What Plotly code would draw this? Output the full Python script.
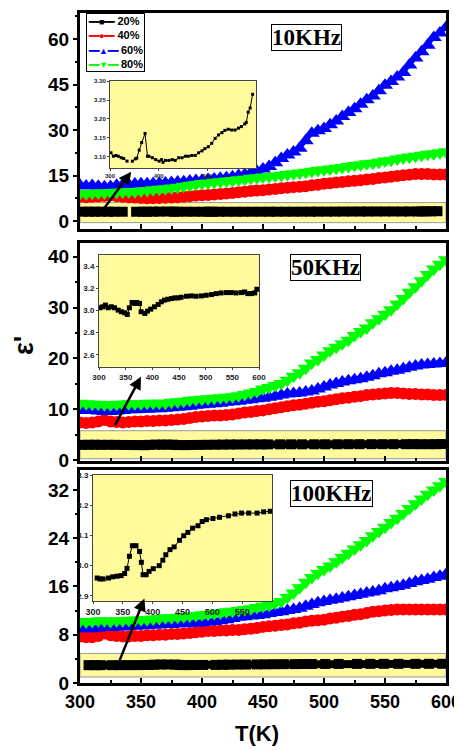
import plotly.graph_objects as go

# ---------------- data ----------------
TEMPS = list(range(300, 605, 5))

# 10 KHz
RED_10K = [8.0, 7.9, 8.0, 8.1, 8.3, 8.5, 8.2, 8.0, 7.9, 7.8,
           7.6, 7.5, 7.5, 7.6, 7.7, 7.8, 7.9, 8.0, 8.2, 8.4,
           8.5, 8.6, 8.8, 8.9, 9.1, 9.3, 9.5, 9.7, 9.9, 10.1,
           10.2, 10.4, 10.6, 10.8, 11.0, 11.2, 11.3, 11.5, 11.8, 12.0,
           12.3, 12.5, 12.7, 12.9, 13.1, 13.3, 13.5, 13.7, 13.9, 14.2,
           14.4, 14.6, 14.9, 15.1, 15.3, 15.5, 15.5, 15.5, 15.4, 15.4,
           15.4]
BLUE_10K = [11.8, 11.6, 11.7, 11.5, 11.3, 11.4, 11.8, 12.0, 12.1, 12.2,
            12.3, 12.3, 12.4, 12.5, 12.6, 12.7, 12.9, 13.0, 13.2, 13.4,
            13.5, 13.7, 13.9, 14.1, 14.3, 14.6, 15.0, 15.4, 15.9, 16.4,
            17.2, 18.0, 19.2, 20.6, 21.8, 22.8, 24.0, 26.5, 29.0, 29.8,
            30.5, 31.8, 33.0, 34.5, 35.8, 37.0, 38.5, 40.0, 41.2, 43.0,
            44.8, 46.0, 47.5, 49.0, 51.5, 53.8, 55.8, 58.0, 60.5, 62.0,
            63.8]
GREEN_10K = [9.1, 9.0, 9.2, 9.3, 9.3, 9.4, 9.5, 9.6, 9.6, 9.7,
             9.9, 10.1, 10.3, 10.5, 10.7, 10.9, 11.2, 11.5, 11.8, 12.1,
             12.4, 12.6, 12.8, 13.0, 13.2, 13.4, 13.6, 13.8, 14.1, 14.3,
             14.5, 14.7, 14.9, 15.1, 15.4, 15.6, 15.9, 16.1, 16.4, 16.7,
             16.9, 17.2, 17.4, 17.7, 18.0, 18.3, 18.6, 18.9, 19.1, 19.4,
             19.8, 20.1, 20.5, 20.8, 21.1, 21.4, 21.7, 22.0, 22.2, 22.5,
             22.9]
# 20% at 10 KHz (also shown in the inset)
T20_10K = [302, 307, 312, 317, 323, 328, 335, 340, 346, 352, 355, 360, 365, 372,
           377, 380, 387, 394, 401, 406, 409, 414, 421, 428, 434, 441, 448, 455,
           461, 468, 475, 482, 489, 495, 502, 509, 516, 523, 530, 536, 543, 550,
           557, 564, 570, 577, 580, 584, 588, 593]
E20_10K = [3.111, 3.102, 3.104, 3.102, 3.098, 3.096, 3.089, None, 3.089, 3.095,
           3.097, 3.118, 3.138, 3.162, 3.102, 3.102, 3.098, 3.093, 3.089, 3.093,
           3.086, 3.091, 3.091, 3.093, 3.091, 3.098, 3.098, 3.102, 3.102, 3.104,
           3.104, 3.111, 3.116, 3.122, 3.127, 3.136, 3.149, 3.158, 3.164, 3.170,
           3.173, 3.171, 3.171, 3.176, 3.180, 3.187, 3.191, 3.218, 3.229, 3.265]

# 50 KHz
RED_50K = [7.4, 7.3, 7.4, 7.6, 7.9, 7.6, 7.5, 7.4, 7.5, 7.6,
           7.6, 7.7, 7.7, 7.8, 7.8, 7.9, 8.0, 8.1, 8.3, 8.5,
           8.6, 8.7, 8.8, 8.8, 8.9, 9.0, 9.2, 9.4, 9.5, 9.7,
           9.8, 10.0, 10.2, 10.4, 10.6, 10.8, 10.9, 11.1, 11.3, 11.5,
           11.6, 11.8, 12.0, 12.2, 12.3, 12.5, 12.6, 12.8, 12.9, 13.0,
           13.1, 13.2, 13.2, 13.1, 13.0, 13.0, 12.9, 12.9, 12.8, 12.8,
           12.8]
BLUE_50K = [9.9, 9.8, 9.8, 9.7, 9.6, 9.6, 9.7, 9.8, 9.9, 9.9,
            10.0, 10.0, 10.1, 10.1, 10.2, 10.3, 10.4, 10.5, 10.6, 10.8,
            10.9, 11.0, 11.1, 11.2, 11.4, 11.5, 11.6, 11.8, 11.9, 12.1,
            12.2, 12.4, 12.6, 12.8, 13.0, 13.1, 13.2, 13.4, 13.6, 14.0,
            14.4, 14.8, 15.1, 15.4, 15.6, 15.8, 16.0, 16.3, 16.6, 17.0,
            17.2, 17.5, 17.7, 18.0, 18.3, 18.5, 18.7, 18.8, 18.9, 19.0,
            19.1]
GREEN_50K = [11.2, 11.1, 11.0, 11.0, 10.9, 10.9, 11.0, 11.0, 11.1, 11.1,
             11.1, 11.2, 11.2, 11.2, 11.2, 11.4, 11.5, 11.6, 11.8, 11.9,
             12.0, 12.1, 12.2, 12.3, 12.4, 12.5, 12.7, 12.9, 13.2, 13.5,
             14.0, 14.3, 14.7, 15.1, 15.7, 16.5, 17.2, 18.1, 19.1, 19.8,
             20.7, 21.5, 22.2, 22.9, 23.6, 24.5, 25.3, 26.0, 27.0, 27.8,
             28.7, 29.6, 30.7, 31.8, 33.0, 34.1, 35.3, 36.5, 37.6, 38.5,
             39.4]
T20_50K = [302, 307, 312, 317, 323, 329, 336, 342, 348, 353, 357, 362, 367, 371,
           376, 379, 386, 391, 397, 404, 411, 417, 423, 429, 436, 442, 448, 454,
           464, 473, 482, 492, 501, 511, 520, 529, 539, 548, 557, 567, 573, 579,
           586, 592, 596]
E20_50K = [3.024, 3.033, 3.048, 3.024, 3.033, 3.024, 3.003, 2.988, 2.979, 2.964,
           3.024, 3.072, 3.063, 3.072, 3.063, 2.988, 2.973, 2.994, 3.012, 3.033,
           3.054, 3.078, 3.093, 3.101, 3.107, 3.113, 3.113, 3.119, 3.128, 3.131,
           3.128, 3.131, 3.137, 3.143, 3.152, 3.158, 3.161, 3.161, 3.158, 3.161,
           3.167, 3.152, 3.152, 3.158, 3.191]

# 100 KHz
RED_100K = [7.7, 7.6, 7.6, 7.8, 8.2, 7.9, 7.8, 7.7, 7.7, 7.8,
            7.8, 7.9, 7.9, 8.0, 8.0, 8.1, 8.1, 8.2, 8.3, 8.4,
            8.5, 8.6, 8.6, 8.7, 8.7, 8.8, 8.8, 8.9, 9.0, 9.1,
            9.3, 9.4, 9.5, 9.6, 9.7, 9.9, 10.0, 10.2, 10.3, 10.4,
            10.5, 10.7, 10.8, 11.0, 11.1, 11.3, 11.4, 11.6, 11.8, 11.9,
            12.0, 12.1, 12.2, 12.2, 12.2, 12.2, 12.2, 12.2, 12.2, 12.2,
            12.2]
BLUE_100K = [9.1, 9.0, 9.0, 9.1, 9.2, 9.2, 9.3, 9.3, 9.4, 9.4,
             9.5, 9.5, 9.6, 9.6, 9.7, 9.7, 9.8, 9.8, 9.9, 9.9,
             10.0, 10.1, 10.2, 10.3, 10.5, 10.7, 10.9, 11.0, 11.1, 11.2,
             11.3, 11.5, 11.7, 11.8, 12.0, 12.2, 12.4, 12.7, 13.0, 13.3,
             13.5, 13.7, 13.9, 14.1, 14.3, 14.5, 14.7, 14.9, 15.1, 15.3,
             15.6, 15.8, 16.0, 16.2, 16.5, 16.8, 17.0, 17.2, 17.5, 17.7,
             18.0]
GREEN_100K = [10.2, 10.1, 10.2, 10.3, 10.3, 10.2, 10.3, 10.3, 10.4, 10.4,
              10.5, 10.5, 10.6, 10.7, 10.8, 10.8, 10.9, 11.0, 11.1, 11.2,
              11.3, 11.4, 11.5, 11.6, 11.8, 11.9, 12.0, 12.2, 12.3, 12.5,
              12.7, 12.9, 13.2, 13.5, 14.2, 14.9, 15.8, 16.7, 17.5, 18.2,
              18.8, 19.4, 20.1, 20.8, 21.5, 22.2, 22.9, 23.6, 24.4, 25.1,
              25.8, 26.6, 27.3, 28.1, 28.9, 29.7, 30.5, 31.3, 32.0, 32.7,
              33.4]
T20_100K = [307, 312, 317, 326, 333, 340, 347, 353, 357, 361, 366, 372, 378,
            381, 384, 389, 394, 401, 411, 417, 422, 429, 436, 445, 452, 459,
            467, 476, 483, 490, 501, 512, 527, 538, 549, 561, 575, 586, 597]
E20_100K = [2.959, 2.956, 2.956, 2.959, 2.963, 2.965, 2.967, 2.974, 2.991, 3.031,
            3.066, 3.066, 3.047, 3.011, 2.970, 2.970, 2.981, 2.990, 3.000, 3.018,
            3.036, 3.053, 3.062, 3.084, 3.099, 3.110, 3.124, 3.132, 3.146, 3.152,
            3.156, 3.160, 3.165, 3.171, 3.174, 3.174, 3.174, 3.178, 3.180]

SERIES_NAMES = ["20%", "40%", "60%", "80%"]
FREQ_LABELS = ["10KHz", "50KHz", "100KHz"]

# ---------------- styling ----------------
BLACK, RED, BLUE, GREEN = "#000000", "#FF0000", "#0000FF", "#00FF00"
YELLOW = "#FFFA9C"
ARIAL = "Arial, Liberation Sans, sans-serif"
SERIF = "Times New Roman, Liberation Serif, serif"

# the page body adds an 8px offset, so the figure is 8px smaller and shifted
PAGE_OFF = 8
W, H = 462 - PAGE_OFF, 750 - PAGE_OFF
PLOT_L, PLOT_R, PLOT_T, PLOT_B = 80, 446, 13, 683   # in screenshot pixels
ML, MT = PLOT_L - PAGE_OFF, PLOT_T - PAGE_OFF
MR, MB = W - (PLOT_R - PAGE_OFF), H - (PLOT_B - PAGE_OFF)
PW, PH = PLOT_R - PLOT_L, PLOT_B - PLOT_T


def px_x(px):
    return (px - PLOT_L) / PW


def px_y(py):
    return (PLOT_B - py) / PH


panels = [
    dict(n="", red=RED_10K, blue=BLUE_10K, green=GREEN_10K, t20=T20_10K, e20=E20_10K,
         ypx=(13, 229), yrange=[-2.6, 68.6], dtick=15, band=(-0.5, 6.1),
         inset_px=(110, 256, 81, 168), inset_x=[300, 600], inset_y=[3.071, 3.30],
         inset_xt=[300, 400, 500], inset_yt=[3.10, 3.15, 3.20, 3.25, 3.30], inset_fmt=".2f",
         inset_font=6, msize=3,
         arrow=(342, 16.3, 318.6, 3.6), label_pos=(306, 37)),
    dict(n="2", red=RED_50K, blue=BLUE_50K, green=GREEN_50K, t20=T20_50K, e20=E20_50K,
         ypx=(243, 461), yrange=[-0.15, 42.7], dtick=10, band=(0.3, 5.8),
         inset_px=(99, 259, 255, 367), inset_x=[300, 600], inset_y=[2.49, 3.50],
         inset_xt=[300, 350, 400, 450, 500, 550, 600], inset_yt=[2.6, 2.8, 3.0, 3.2, 3.4],
         inset_fmt=".1f", inset_font=8, msize=5,
         arrow=(350, 16.4, 328, 6.6), label_pos=(325, 267.5)),
    dict(n="3", red=RED_100K, blue=BLUE_100K, green=GREEN_100K, t20=T20_100K, e20=E20_100K,
         ypx=(470, 683), yrange=[0, 35.3], dtick=8, band=(1.0, 4.9),
         inset_px=(93, 272, 475, 601), inset_x=[300, 600], inset_y=[2.883, 3.30],
         inset_xt=[300, 350, 400, 450, 500, 550], inset_yt=[2.9, 3.0, 3.1, 3.2, 3.3],
         inset_fmt=".1f", inset_font=8, msize=5,
         arrow=(352.8, 14.0, 332, 3.5), label_pos=(331.5, 493)),
]

fig = go.Figure()
layout = dict(
    width=W, height=H,
    margin=dict(l=ML, r=MR, t=MT, b=MB, autoexpand=False),
    paper_bgcolor="white", plot_bgcolor="rgba(0,0,0,0)",
    showlegend=False,
    font=dict(family=ARIAL, color="black"),
)
shapes, annotations = [], []

for i, p in enumerate(panels):
    n = p["n"]
    xa, ya = "x" + n, "y" + n
    fig.add_trace(go.Scatter(x=p["t20"], y=p["e20"], xaxis=xa, yaxis=ya, mode="lines+markers",
                             name=SERIES_NAMES[0], line=dict(color=BLACK, width=8),
                             marker=dict(symbol="square", size=10, color=BLACK)))
    fig.add_trace(go.Scatter(x=TEMPS, y=p["red"], xaxis=xa, yaxis=ya, mode="lines+markers",
                             name=SERIES_NAMES[1], line=dict(color=RED, width=4),
                             marker=dict(symbol="circle", size=12, color=RED)))
    fig.add_trace(go.Scatter(x=TEMPS, y=p["blue"], xaxis=xa, yaxis=ya, mode="lines+markers",
                             name=SERIES_NAMES[2], line=dict(color=BLUE, width=4),
                             marker=dict(symbol="triangle-up", size=14, color=BLUE)))
    fig.add_trace(go.Scatter(x=TEMPS, y=p["green"], xaxis=xa, yaxis=ya, mode="lines+markers",
                             name=SERIES_NAMES[3], line=dict(color=GREEN, width=4),
                             marker=dict(symbol="triangle-down", size=14, color=GREEN)))

    top, bot = p["ypx"]
    layout["xaxis" + n] = dict(
        domain=[0, 1], anchor=ya, range=[300, 600], dtick=50, tick0=300,
        showline=True, linewidth=3, linecolor="black", mirror=True,
        ticks="inside", ticklen=5, tickwidth=2, tickcolor="black",
        minor=dict(ticks="inside", ticklen=3, tickwidth=2, dtick=25, tickcolor="black"),
        showgrid=False, zeroline=False,
        showticklabels=(n == "3"),
        tickfont=dict(family=ARIAL, size=18, weight="bold"),
    )
    layout["yaxis" + n] = dict(
        domain=[px_y(bot), px_y(top)], anchor=xa, range=p["yrange"], dtick=p["dtick"], tick0=0,
        showline=True, linewidth=3, linecolor="black", mirror=True,
        ticks="outside", ticklen=4, tickwidth=2, tickcolor="black",
        minor=dict(ticks="outside", ticklen=2, tickwidth=2, dtick=p["dtick"] / 2, tickcolor="black"),
        showgrid=False, zeroline=False,
        tickfont=dict(family=ARIAL, size=19, weight="bold"),
    )
    shapes.append(dict(type="rect", xref=xa + " domain", yref=ya, x0=0, x1=1,
                       y0=p["band"][0], y1=p["band"][1], fillcolor=YELLOW,
                       line=dict(color="#9a9a9a", width=1), layer="below"))
    lx, ly = p["label_pos"]
    annotations.append(dict(text=FREQ_LABELS[i], xref="paper", yref="paper",
                            x=px_x(lx), y=px_y(ly), xanchor="center", yanchor="middle",
                            showarrow=False, bgcolor="white", bordercolor="black",
                            borderwidth=1, borderpad=0,
                            font=dict(family=SERIF, size=23, weight="bold", color="black")))
    hx, hy, tx, ty = p["arrow"]
    annotations.append(dict(text="", x=hx, y=hy, ax=tx, ay=ty, xref=xa, yref=ya,
                            axref=xa, ayref=ya, showarrow=True, arrowhead=2,
                            arrowsize=1, arrowwidth=2.5, arrowcolor="black"))

# insets
for i, p in enumerate(panels):
    k = str(4 + i)
    xa, ya = "x" + k, "y" + k
    fig.add_trace(go.Scatter(x=p["t20"], y=p["e20"], xaxis=xa, yaxis=ya, mode="lines+markers",
                             line=dict(color=BLACK, width=1),
                             marker=dict(symbol="square", size=p["msize"], color=BLACK)))
    x0, x1, y0, y1 = p["inset_px"]
    fsz = p["inset_font"]
    layout["xaxis" + k] = dict(
        domain=[px_x(x0), px_x(x1)], anchor=ya, range=p["inset_x"], tickvals=p["inset_xt"],
        showline=True, linewidth=1, linecolor="#444", mirror=True,
        ticks="outside", ticklen=2, tickwidth=1, tickcolor="#444",
        showgrid=False, zeroline=False,
        tickfont=dict(family=ARIAL, size=fsz + (1 if i == 2 else 0), weight="bold", color="#222"),
    )
    layout["yaxis" + k] = dict(
        domain=[px_y(y1), px_y(y0)], anchor=xa, range=p["inset_y"], tickvals=p["inset_yt"],
        tickformat=p["inset_fmt"],
        showline=True, linewidth=1, linecolor="#444", mirror=True,
        ticks="outside", ticklen=2, tickwidth=1, tickcolor="#444",
        showgrid=False, zeroline=False,
        tickfont=dict(family=ARIAL, size=fsz, weight="bold", color="#222"),
    )
    # yellow background spanning the inset's axis ranges
    shapes.append(dict(type="rect", xref=xa, yref=ya,
                       x0=p["inset_x"][0], x1=p["inset_x"][1],
                       y0=p["inset_y"][0], y1=p["inset_y"][1],
                       fillcolor=YELLOW, line=dict(width=0), layer="below"))

# legend drawn as a boxed text block with drop shadow
LEGEND_SYMBOLS = ["■", "●", "▲", "▼"]
LEGEND_COLORS = [BLACK, RED, BLUE, GREEN]
legend_text = "<br>".join(
    f"<span style='color:{c};font-size:9px'>━━{s}━━</span> {lab}"
    for s, c, lab in zip(LEGEND_SYMBOLS, LEGEND_COLORS, SERIES_NAMES)
)
shapes.append(dict(type="rect", xref="paper", yref="paper",
                   x0=px_x(89), x1=px_x(142.5), y0=px_y(72), y1=px_y(16),
                   fillcolor="black", line=dict(width=0), layer="above"))
annotations.append(dict(text=legend_text, xref="paper", yref="paper",
                        x=px_x(86), y=px_y(13), xanchor="left", yanchor="top",
                        align="left", showarrow=False, bgcolor="white",
                        bordercolor="black", borderwidth=1, borderpad=1,
                        font=dict(family=ARIAL, size=11, weight="bold", color="black")))

annotations.append(dict(text="T(K)", xref="paper", yref="paper", x=px_x(257), y=px_y(733),
                        xanchor="center", yanchor="middle", showarrow=False,
                        font=dict(family=ARIAL, size=22, weight="bold", color="black")))
annotations.append(dict(text="ε'", xref="paper", yref="paper", x=px_x(24), y=px_y(346),
                        xanchor="center", yanchor="middle", showarrow=False, textangle=-90,
                        font=dict(family=ARIAL, size=27, weight="bold", color="black")))

layout["shapes"] = shapes
layout["annotations"] = annotations
fig.update_layout(**layout)
fig.write_html("out.html")
